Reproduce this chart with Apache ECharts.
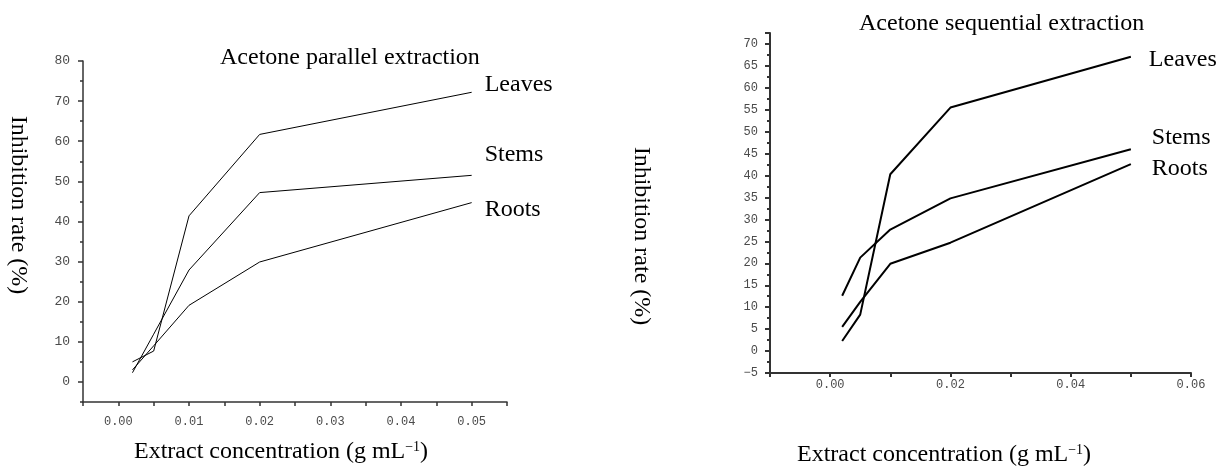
<!DOCTYPE html>
<html><head><meta charset="utf-8">
<script src="https://cdn.jsdelivr.net/npm/echarts@6/dist/echarts.min.js"></script>
<style>html,body{margin:0;padding:0;background:#fff}#c{width:1218px;height:466px}</style>
</head><body><div id="c"></div>
<script>
// ---- data ----
const concentration = [0.002, 0.005, 0.01, 0.02, 0.05];
const seriesNames = ['Leaves', 'Stems', 'Roots'];
const parallelLeaves = [5.0, 7.7, 41.4, 61.7, 72.2];
const parallelStems  = [2.3, 11.9, 27.9, 47.2, 51.5];
const parallelRoots  = [3.0, 9.0, 19.1, 29.9, 44.7];
const sequentialLeaves = [2.3, 8.3, 40.3, 55.5, 67.1];
const sequentialStems  = [12.6, 21.3, 27.7, 34.8, 46.0];
const sequentialRoots  = [5.5, 11.2, 19.9, 24.7, 42.6];
const leftYTickLabels = [0, 10, 20, 30, 40, 50, 60, 70, 80];
const rightYTickLabels = [-5, 0, 5, 10, 15, 20, 25, 30, 35, 40, 45, 50, 55, 60, 65, 70];
const leftXTickLabels = [0.00, 0.01, 0.02, 0.03, 0.04, 0.05];
const rightXTickLabels = [0.00, 0.02, 0.04, 0.06];
const titles = ['Acetone parallel extraction', 'Acetone sequential extraction'];
const yName = 'Inhibition rate (%)';

// ---- chart ----
const SERIF = '"Liberation Serif", "Times New Roman", serif';
const MONO = '"Liberation Mono", "DejaVu Sans Mono", monospace';
const axisColor = '#333';
const tickText = {fontFamily: MONO, fontSize: 12, color: '#4a4a4a'};

function pairs(ys) { return concentration.map((x, i) => [x, ys[i]]); }
function near(v, list) { return list.some(t => Math.abs(t - v) < 1e-7); }
function fmtX(v) { return Math.round(v * 100) / 100 >= 0 ? v.toFixed(2) : ''; }

function lineSeries(name, ys, xi, width, dist, dy) {
  return {
    type: 'line', name: name, xAxisIndex: xi, yAxisIndex: xi * 2,
    data: pairs(ys), symbol: 'none', showSymbol: false,
    lineStyle: {color: '#000', width: width}, itemStyle: {color: '#000'},
    emphasis: {disabled: true},
    endLabel: {show: true, formatter: name, distance: dist, offset: [0, dy],
      fontFamily: SERIF, fontSize: 24, color: '#000'}
  };
}

const supRich = {
  sup: {fontFamily: SERIF, fontSize: 14, verticalAlign: 'top', fill: '#000', lineHeight: 14}
};
function xNameText(x, y) {
  return {type: 'text', x: x, y: y, silent: true,
    style: {text: 'Extract concentration (g mL{sup|\u22121})', font: '24px ' + SERIF,
      fill: '#000', align: 'left', verticalAlign: 'middle', rich: supRich}};
}

const option = {
  animation: false,
  backgroundColor: '#fff',
  grid: [
    {left: 83, top: 61, width: 424, height: 341},
    {left: 770, top: 33, width: 421, height: 340}
  ],
  xAxis: [
    {type: 'value', gridIndex: 0, min: -0.005, max: 0.055, interval: 0.005,
     splitLine: {show: false},
     axisLine: {show: true, onZero: false, lineStyle: {color: axisColor, width: 1.5}},
     axisTick: {show: true, length: 4, lineStyle: {color: axisColor, width: 1.5}},
     axisLabel: Object.assign({margin: 14, formatter: v => near(v, leftXTickLabels) ? fmtX(v) : ''}, tickText)},
    {type: 'value', gridIndex: 1, min: -0.01, max: 0.06, interval: 0.01,
     splitLine: {show: false},
     axisLine: {show: true, onZero: false, lineStyle: {color: axisColor, width: 2}},
     axisTick: {show: true, length: 4, lineStyle: {color: axisColor, width: 2}},
     axisLabel: Object.assign({margin: 6, formatter: v => near(v, rightXTickLabels) ? fmtX(v) : ''}, tickText)}
  ],
  yAxis: [
    {type: 'value', gridIndex: 0, min: -5, max: 80, interval: 5,
     splitLine: {show: false},
     axisLine: {show: true, onZero: false, lineStyle: {color: axisColor, width: 1.5}},
     axisTick: {show: true, length: 3, lineStyle: {color: axisColor, width: 1.5}},
     axisLabel: {show: false}},
    {type: 'value', gridIndex: 0, min: -5, max: 80, position: 'left',
     splitLine: {show: false},
     axisLine: {show: false, onZero: false},
     axisTick: {show: true, length: 5, customValues: leftYTickLabels, lineStyle: {color: axisColor, width: 1.5}},
     axisLabel: Object.assign({}, tickText, {margin: 13, fontSize: 13, customValues: leftYTickLabels})},
    {type: 'value', gridIndex: 1, min: -5, max: 72.5, interval: 5,
     splitLine: {show: false},
     axisLine: {show: true, onZero: false, lineStyle: {color: axisColor, width: 2}},
     axisTick: {show: true, length: 5, lineStyle: {color: axisColor, width: 2}},
     minorTick: {show: true, splitNumber: 2, length: 3, lineStyle: {color: axisColor, width: 2}},
     axisLabel: Object.assign({margin: 12,
       formatter: v => near(v, rightYTickLabels) ? String(Math.round(v)).replace('-', '\u2212') : ''}, tickText)}
  ],
  series: [
    lineSeries(seriesNames[0], parallelLeaves, 0, 1, 13, -8),
    lineSeries(seriesNames[1], parallelStems, 0, 1, 13, -21),
    lineSeries(seriesNames[2], parallelRoots, 0, 1, 13, 7),
    lineSeries(seriesNames[0], sequentialLeaves, 1, 2, 18, 3),
    lineSeries(seriesNames[1], sequentialStems, 1, 2, 21, -12),
    lineSeries(seriesNames[2], sequentialRoots, 1, 2, 21, 5)
  ],
  graphic: [
    {type: 'text', x: 220, y: 58, silent: true,
     style: {text: titles[0], font: '24px ' + SERIF, fill: '#000', align: 'left', verticalAlign: 'middle'}},
    {type: 'text', x: 859, y: 24, silent: true,
     style: {text: titles[1], font: '24px ' + SERIF, fill: '#000', align: 'left', verticalAlign: 'middle'}},
    {type: 'text', x: 18, y: 205, rotation: -Math.PI / 2, silent: true,
     style: {text: yName, font: '24px ' + SERIF, fill: '#000', align: 'center', verticalAlign: 'middle'}},
    {type: 'text', x: 641, y: 236, rotation: -Math.PI / 2, silent: true,
     style: {text: yName, font: '24px ' + SERIF, fill: '#000', align: 'center', verticalAlign: 'middle'}},
    xNameText(134, 452),
    xNameText(797, 455)
  ]
};

const chart = echarts.init(document.getElementById('c'), null, {renderer: 'canvas'});
chart.setOption(option);
</script>
</body></html>
